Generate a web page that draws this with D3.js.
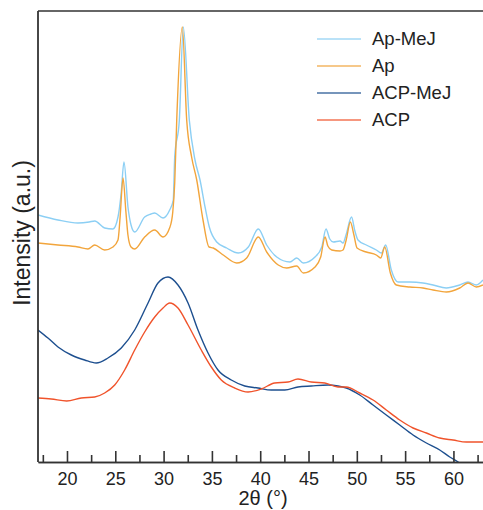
<!DOCTYPE html>
<html lang="en">
<head>
    <meta charset="UTF-8">
    <title>XRD patterns</title>
    <script src="https://d3js.org/d3.v7.min.js"></script>
    <style>
        body { margin: 0; background: #fff; }
        svg { font-family: "Liberation Sans", Arial, sans-serif; }
        .series { fill: none; stroke-width: 1.4; }
        .axis text { font-size: 18px; fill: #222; }
        .axis path, .axis line { stroke: #333; stroke-width: 1.6; }
    </style>
</head>
<body>
<script>
    // series names and colours (legend order)
    var seriesNames = ["Ap-MeJ", "Ap", "ACP-MeJ", "ACP"];
    var seriesColors = ["#8ccff4", "#f2a53c", "#1d4f8f", "#f0532b"];

    // [2θ, intensity]
    var apMeJ = [[17.0,247],[19.07,242],[21.14,239],[22.3,240],[22.87,241],[23.9,234],[24.76,233],[25.28,245],
        [25.6,268],[25.9,300],[26.31,255],[26.63,237],[27.01,230],[28.04,245],[28.7,248],[29.08,249],[29.94,244],
        [30.63,252],[31.0,262],[31.15,305],[31.63,342],[32.04,435],[32.66,342],[33.25,302],[33.77,282],[34.29,255],
        [34.73,235],[35.5,220],[36.53,214],[37.73,209],[38.77,215],[39.8,233],[40.67,217],[41.71,205],[43.08,200],
        [43.78,204],[44.46,199],[45.67,205],[46.37,215],[46.81,233],[47.2,223],[47.57,220],[48.26,221],[48.57,219],
        [48.91,228],[49.45,245],[49.8,231],[50.12,222],[50.98,217],[52.02,212],[52.54,209],[52.99,217],[53.57,192],
        [54.27,180],[55.48,180],[56.85,179],[57.89,177],[59.26,174],[60.65,177],[61.51,180],[62.37,177],[63.06,182]];

    var ap = [[17.0,219],[19.07,217],[21.14,215],[22.17,213],[22.87,217],[23.9,212],[24.76,215],[25.28,222],
        [25.5,245],[25.8,284],[26.1,250],[26.31,227],[26.63,215],[27.01,213],[28.04,225],[29.08,232],[29.94,225],
        [30.66,235],[30.95,250],[31.15,279],[31.36,342],[31.94,435],[32.39,342],[32.9,305],[33.43,282],[34.08,242],
        [34.7,215],[35.14,214],[36.18,207],[37.57,199],[38.6,204],[39.8,225],[40.67,210],[41.87,197],[42.74,194],
        [43.78,196],[44.46,189],[45.67,195],[46.26,205],[46.71,225],[47.0,216],[47.4,212],[48.26,211],[48.57,212],
        [48.9,222],[49.33,240],[49.7,227],[50.02,214],[50.98,210],[52.02,207],[52.47,204],[52.89,215],[53.47,189],
        [54.09,177],[55.48,175],[56.85,174],[57.89,172],[59.26,170],[60.65,174],[61.51,179],[62.37,175],[63.06,177]];

    var acpMeJ = [[17.0,132],[18.03,124],[19.07,115],[20.45,107],[21.83,102],[23.03,99],[24.24,104],[25.62,114],
        [27.01,132],[28.39,159],[29.42,179],[30.46,185],[31.49,177],[32.53,159],[33.56,132],[34.6,109],[35.63,92],
        [37.01,82],[38.4,76],[39.77,74],[41.15,72],[42.54,72],[43.91,75],[45.29,76],[47.02,77],[48.05,76],
        [48.91,74],[50.3,67],[51.68,57],[53.05,47],[54.44,37],[55.82,27],[57.2,19],[58.58,12],[59.62,5],
        [60.48,0],[61.5,-7],[63.06,-17]];

    var acp = [[17.0,64],[18.37,63],[19.97,61],[21.48,64],[22.87,65],[23.9,69],[24.94,77],[25.97,92],[27.01,112],
        [28.04,130],[29.08,145],[29.94,154],[30.63,159],[31.49,154],[32.53,137],[33.9,112],[34.94,95],[35.97,82],
        [37.36,74],[38.74,70],[40.11,73],[41.5,79],[42.88,80],[43.91,83],[45.29,80],[46.68,79],[48.05,75],
        [48.91,75],[50.3,69],[51.68,62],[53.05,52],[54.44,42],[55.82,34],[57.2,29],[58.58,24],[59.96,22],
        [61.34,20],[63.06,20]];

    var seriesData = [apMeJ, ap, acpMeJ, acp];
    var majorTicks = [20, 25, 30, 35, 40, 45, 50, 55, 60];
    var minorTicks = [17.5, 22.5, 27.5, 32.5, 37.5, 42.5, 47.5, 52.5, 57.5, 62.5];

    var width = 483, height = 510;
    var plotLeft = 38, plotTop = 11, plotRight = 483, plotBottom = 462;

    var svg = d3.select("body").append("svg")
        .attr("width", width)
        .attr("height", height);

    var x = d3.scaleLinear().domain([17, 63.06]).range([plotLeft, plotRight]);
    var y = d3.scaleLinear().domain([0, 451]).range([plotBottom, plotTop]);

    svg.append("clipPath").attr("id", "plot")
        .append("rect")
        .attr("x", plotLeft).attr("y", plotTop)
        .attr("width", plotRight - plotLeft).attr("height", plotBottom - plotTop);

    var line = d3.line()
        .x(function(d) { return x(d[0]); })
        .y(function(d) { return y(d[1]); })
        .curve(d3.curveMonotoneX);

    svg.append("g").attr("clip-path", "url(#plot)")
        .selectAll("path")
        .data(seriesData)
        .enter().append("path")
        .attr("class", "series")
        .attr("d", line)
        .style("stroke", function(d, i) { return seriesColors[i]; });

    // minor ticks
    svg.append("g")
        .attr("class", "axis")
        .attr("transform", "translate(0," + plotBottom + ")")
        .call(d3.axisBottom(x).tickValues(minorTicks).tickSize(-7).tickSizeOuter(0).tickFormat(""));

    // major ticks + labels
    svg.append("g")
        .attr("class", "axis")
        .attr("transform", "translate(0," + plotBottom + ")")
        .call(d3.axisBottom(x).tickValues(majorTicks).tickSize(-11).tickSizeOuter(0).tickPadding(10));

    // left and top frame
    svg.append("line").attr("x1", plotLeft).attr("x2", plotLeft).attr("y1", plotTop).attr("y2", plotBottom)
        .attr("stroke", "#333").attr("stroke-width", 1.8);
    svg.append("line").attr("x1", plotLeft).attr("x2", plotRight).attr("y1", plotTop).attr("y2", plotTop)
        .attr("stroke", "#333").attr("stroke-width", 1.6);

    svg.append("text")
        .attr("x", 263).attr("y", 505)
        .attr("text-anchor", "middle")
        .style("font-size", "20px").style("fill", "#222")
        .text("2θ (°)");

    svg.append("text")
        .attr("transform", "translate(30,233) rotate(-90)")
        .attr("text-anchor", "middle")
        .style("font-size", "23px").style("fill", "#222")
        .text("Intensity (a.u.)");

    // legend
    var legend = svg.selectAll(".legend")
        .data(seriesNames)
        .enter().append("g")
        .attr("class", "legend")
        .attr("transform", function(d, i) { return "translate(317," + (39 + i * 27) + ")"; });

    legend.append("line")
        .attr("x1", 0).attr("x2", 44)
        .attr("stroke", function(d, i) { return seriesColors[i]; })
        .attr("stroke-width", 1.5)
        .attr("opacity", 0.8);

    legend.append("text")
        .attr("x", 55).attr("dy", "0.35em")
        .style("font-size", "18.5px").style("fill", "#222")
        .text(function(d) { return d; });
</script>
</body>
</html>
